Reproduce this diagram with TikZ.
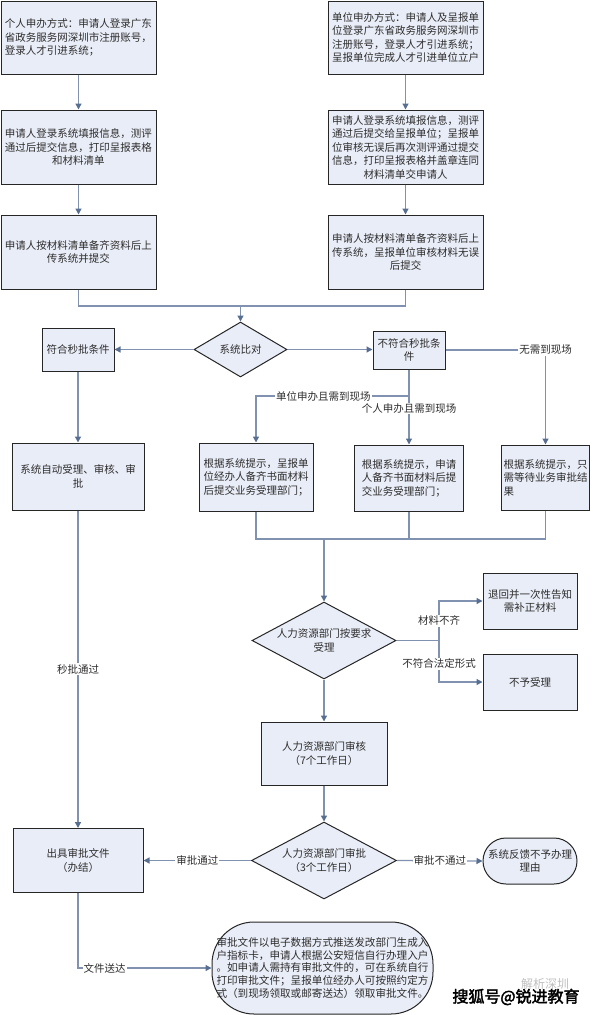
\documentclass[tikz,border=0pt]{standalone}
\usepackage{fontspec}
\setmainfont{Noto Sans CJK SC}
\newfontfamily\wmfont[FakeBold=2.5]{Noto Sans CJK SC}
\usetikzlibrary{shapes.geometric,arrows.meta}
\definecolor{boxfill}{RGB}{233,237,247}
\definecolor{linec}{RGB}{128,146,176}
\definecolor{arrowc}{RGB}{88,110,145}
\definecolor{txt}{RGB}{45,45,45}
\tikzset{
  box/.style={draw=black!85, line width=1pt, fill=boxfill, inner sep=2pt, text=txt,
    font=\fontsize{10.5}{13.5}\selectfont, align=center},
  dia/.style={draw=black!85, line width=1pt, fill=boxfill, diamond, inner sep=0pt},
  dtext/.style={text=txt, font=\fontsize{10.5}{14}\selectfont, align=center},
  conn/.style={draw=linec, line width=1.3pt},
  arr/.style={conn, -{Triangle[length=6pt,width=6pt,color=arrowc]}},
  lbl/.style={fill=white, text=txt, inner sep=1pt, font=\fontsize{10.5}{12}\selectfont},
}
\begin{document}
\begin{tikzpicture}[x=1pt,y=-1pt]
\useasboundingbox (0,0) rectangle (593,1015);

% left column
\node[box, align=left, minimum width=155, minimum height=73] (A) at (78.5,37.5)
  {个人申办方式：申请人登录广东\\省政务服务网深圳市注册账号，\\登录人才引进系统；};
\node[box, minimum width=155, minimum height=74] (B) at (78.5,147)
  {申请人登录系统填报信息，测评\\通过后提交信息，打印呈报表格\\和材料清单};
\node[box, minimum width=155, minimum height=74] (C) at (78.5,252)
  {申请人按材料清单备齐资料后上\\传系统并提交};

% right column
\node[box, align=left, minimum width=155, minimum height=73] (A2) at (405.5,37.5)
  {单位申办方式：申请人及呈报单\\位登录广东省政务服务网深圳市\\注册账号，登录人才引进系统；\\呈报单位完成人才引进单位立户};
\node[box, minimum width=155, minimum height=74] (B2) at (405.5,147)
  {申请人登录系统填报信息，测评\\通过后提交给呈报单位；呈报单\\位审核无误后再次测评通过提交\\信息，打印呈报表格并盖章连同\\材料清单交申请人};
\node[box, minimum width=155, minimum height=74] (C2) at (405.5,252)
  {申请人按材料清单备齐资料后上\\传系统，呈报单位审核材料无误\\后提交};

% system compare
\node[dia, minimum width=93, minimum height=55] (D) at (240.5,349.5) {};
\node[dtext] at (D) {系统比对};
\node[box, minimum width=72, minimum height=43] (S) at (78,349.5) {符合秒批条件};
\node[box, minimum width=72, minimum height=38] (N) at (409,350) {不符合秒批条\\件};

\node[box, minimum width=132, minimum height=67] (AU) at (78,476.5) {系统自动受理、审核、审\\批};
\node[box, align=left, minimum width=114, minimum height=68] (U) at (256,477)
  {根据系统提示，呈报单\\位经办人备齐书面材料\\后提交业务受理部门；};
\node[box, align=left, minimum width=109, minimum height=66] (P) at (409,478)
  {根据系统提示，申请\\人备齐书面材料后提\\交业务受理部门；};
\node[box, align=left, minimum width=87, minimum height=65] (W) at (545.5,477.5)
  {根据系统提示，只\\需等待业务审批结\\果};

% HR acceptance
\node[dia, minimum width=144, minimum height=77] (E) at (324,640.5) {};
\node[dtext] at (E) {人力资源部门按要求\\受理};
\node[box, minimum width=94, minimum height=56] (R1) at (530,601) {退回并一次性告知\\需补正材料};
\node[box, minimum width=94, minimum height=56] (R2) at (530,682) {不予受理};

\node[box, minimum width=126, minimum height=63] (F) at (324,753.5) {人力资源部门审核\\（7个工作日）};
\node[dia, minimum width=145, minimum height=77] (G) at (324,860.5) {};
\node[dtext] at (G) {人力资源部门审批\\（3个工作日）};
\node[box, minimum width=130, minimum height=64] (O) at (78,860.5) {出具审批文件\\（办结）};
\node[box, rounded corners=23, minimum width=94, minimum height=46] (T) at (530,861) {系统反馈不予办理\\理由};
\node[box, rounded corners=42, minimum width=221, minimum height=92, inner sep=0pt,
  font=\fontsize{10.6}{12.8}\selectfont] (L) at (322.5,968)
  {审批文件以电子数据方式推送发改部门生成入\\户指标卡，申请人根据公安短信自行办理入户\\。如申请人需持有审批文件的，可在系统自行\\打印审批文件；呈报单位经办人可按照约定方\\式（到现场领取或邮寄送达）领取审批文件。};

% connectors
\draw[arr] (A) -- (B);
\draw[arr] (B) -- (C);
\draw[arr] (A2) -- (B2);
\draw[arr] (B2) -- (C2);
\coordinate (j) at (240.5,306);
\draw[conn] (C.south) |- (j) -| (C2.south);
\draw[arr] (j) -- (D.north);
\draw[arr] (D.west) -- (S.east);
\draw[arr] (D.east) -- (N.west |- D.east);
\draw[arr] (S) -- (AU);
\draw[arr] (AU) -- node[lbl]{秒批通过} (O);
\draw[arr] (N.east) -| node[lbl, pos=0.5]{无需到现场} (W.north);
\draw[arr] (N.south) -- node[lbl, pos=0.52]{个人申办且需到现场} (P.north);
\coordinate (nb) at (409,396);
\draw[arr] (nb) -| node[lbl, pos=0.28]{单位申办且需到现场} (U.north);

\coordinate (m) at (324,539);
\draw[conn] (U.south) |- (m) -| (W.south);
\draw[conn] (P.south) -- (P.south |- m);
\draw[arr] (m) -- (E.north);

\coordinate (eb) at (439,640.5);
\draw[conn] (E.east) -- (eb);
\draw[arr] (eb) |- node[lbl, pos=0.25]{材料不齐} (R1.west);
\draw[arr] (eb) |- node[lbl, pos=0.28]{不符合法定形式} (R2.west);

\draw[arr] (E.south) -- (F.north);
\draw[arr] (F.south) -- (G.north);
\draw[arr] (G.west) -- node[lbl]{审批通过} (O.east);
\draw[arr] (G.east) -- node[lbl]{审批不通过} (T.west);
\draw[arr] (O.south) |- node[lbl, pos=0.6]{文件送达} (L.west);

% watermark
\node[text=black!25, font=\fontsize{12}{12}\selectfont] (wm2) at (545,984) {解析深圳};
\node[text=black, font=\wmfont\fontsize{16}{16}\selectfont, inner sep=1pt] (wm) at (516,997) {搜狐号@锐进教育};
\end{tikzpicture}
\end{document}
